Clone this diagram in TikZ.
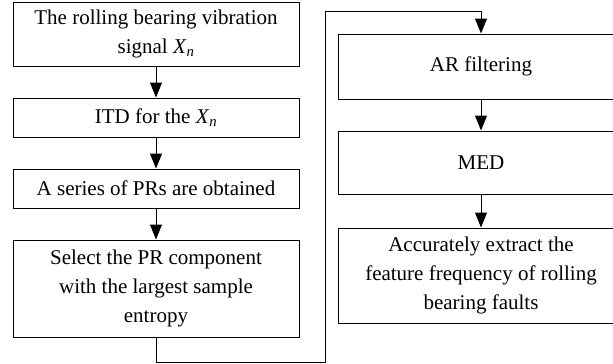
\documentclass[tikz,border=0pt]{standalone}
\usepackage{fontspec}
\setmainfont{Liberation Serif}
\usepackage{tikz}
\usetikzlibrary{positioning,calc,arrows.meta}

\newcommand{\Xn}{\textit{X}\textsubscript{\textit{n}}}

\begin{document}
\begin{tikzpicture}[x=1pt, y=-1pt,
    stepbox/.style={draw, line width=1pt, minimum width=286pt, inner sep=0pt,
        align=center, font=\fontsize{21}{29}\selectfont},
    flow/.style={line width=1pt, -{Triangle[length=15pt, width=12pt]}}]
        \useasboundingbox (0,0) rectangle (613,364);
        % Left column
        \node[stepbox, minimum height=64pt] (sig) at (156,34) {The rolling bearing vibration\\ signal \Xn};
        \node[stepbox, minimum height=39pt] (itd) at (156,117.5) {ITD for the \Xn};
        \node[stepbox, minimum height=39pt] (prs) at (156,188.5) {A series of PRs are obtained};
        \node[stepbox, minimum height=97pt] (sel) at (156,288.5) {Select the PR component\\ with the largest sample\\ entropy};
        % Right column
        \node[stepbox, minimum height=65pt] (ar) at (481,66.5) {AR filtering};
        \node[stepbox, minimum height=63pt] (med) at (481,162.5) {MED};
        \node[stepbox, minimum height=95pt] (ext) at (481,275.5) {Accurately extract the\\ feature frequency of rolling\\ bearing faults};
        % Arrows
        \draw[flow] (sig) -- (itd);
        \draw[flow] (itd) -- (prs);
        \draw[flow] (prs) -- (sel);
        \coordinate (lo) at (325,362);
        \coordinate (hi) at (325,11);
        \draw[flow] (sel.south) |- (lo) -- (hi) -| (ar.north);
        \draw[flow] (ar) -- (med);
        \draw[flow] (med) -- (ext);
    \end{tikzpicture}
\end{document}
